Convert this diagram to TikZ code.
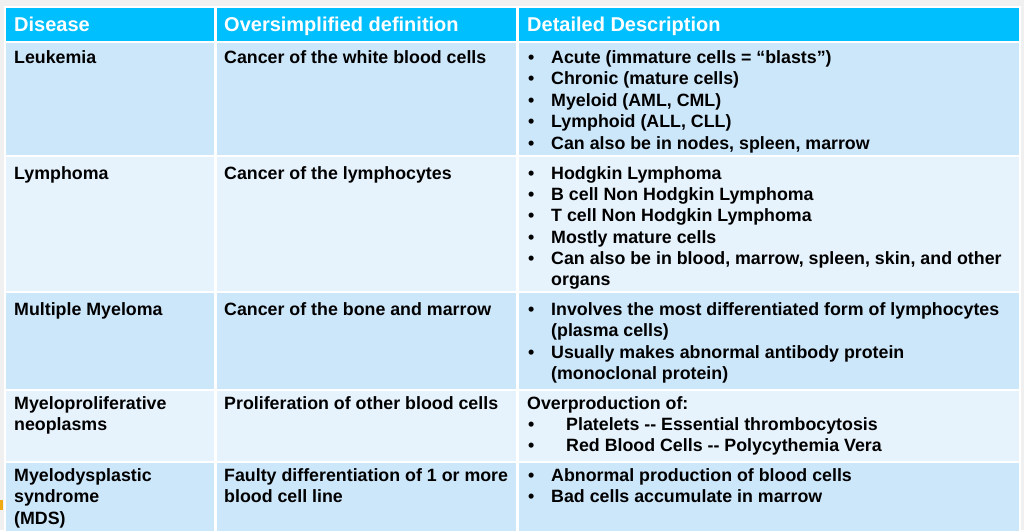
\documentclass[tikz,border=0pt]{standalone}
\usepackage{fontspec}
\setmainfont{Liberation Sans}
\definecolor{hdr}{RGB}{0,191,255}
\definecolor{rowa}{RGB}{204,230,250}
\definecolor{rowb}{RGB}{230,242,252}
\definecolor{bgc}{RGB}{240,240,240}
\definecolor{orng}{RGB}{240,170,20}
\begin{document}
\begin{tikzpicture}[x=1pt,y=-1pt,
  txt/.style={anchor=base west,inner sep=0pt,font=\fontsize{17.8}{20}\selectfont\bfseries},
  htxt/.style={txt,text=white,font=\fontsize{20}{22}\selectfont\bfseries}]
\useasboundingbox (0,0) rectangle (1024,530);
\fill[bgc] (0,0) rectangle (1024,530);
\fill[white] (4,6) rectangle (1021,530);
\fill[hdr] (6,8) rectangle (214,41);
\fill[hdr] (217,8) rectangle (516,41);
\fill[hdr] (519,8) rectangle (1019,41);
\foreach \ya/\yb/\c in {43/155/rowa,157/291/rowb,293/389/rowa,391/461/rowb,463/531/rowa}{
  \fill[\c] (6,\ya) rectangle (214,\yb);
  \fill[\c] (217,\ya) rectangle (516,\yb);
  \fill[\c] (519,\ya) rectangle (1019,\yb);}
\fill[orng] (0,500) rectangle (3,510);
\node[htxt] (h1) at (14,31) {Disease};
\node[htxt] (h2) at (224,31) {Oversimplified definition};
\node[htxt] (h3) at (527,31) {Detailed Description};
% left columns
\node[txt] (d1) at (14,63) {Leukemia};
\node[txt] (o1) at (224,63) {Cancer of the white blood cells};
\node[txt] (d2) at (14,179) {Lymphoma};
\node[txt] (o2) at (224,179) {Cancer of the lymphocytes};
\node[txt] (d3) at (14,315) {Multiple Myeloma};
\node[txt] (o3) at (224,315) {Cancer of the bone and marrow};
\node[txt] (d4a) at (14,409) {Myeloproliferative};
\node[txt] (d4b) at (14,430) {neoplasms};
\node[txt] (o4) at (224,409) {Proliferation of other blood cells};
\node[txt] (d5a) at (14,481) {Myelodysplastic};
\node[txt] (d5b) at (14,502) {syndrome};
\node[txt] (d5c) at (14,524) {(MDS)};
\node[txt] (o5a) at (224,481) {Faulty differentiation of 1 or more};
\node[txt] (o5b) at (224,502) {blood cell line};
% bullets
\foreach \y/\t/\b in {63/{Acute (immature cells = “blasts”)}/1,84/{Chronic (mature cells)}/1,106/{Myeloid (AML, CML)}/1,127/{Lymphoid (ALL, CLL)}/1,149/{Can also be in nodes, spleen, marrow}/1,
 179/{Hodgkin Lymphoma}/1,200/{B cell Non Hodgkin Lymphoma}/1,221/{T cell Non Hodgkin Lymphoma}/1,243/{Mostly mature cells}/1,264/{Can also be in blood, marrow, spleen, skin, and other}/1,285/{organs}/0,
 315/{Involves the most differentiated form of lymphocytes}/1,336/{(plasma cells)}/0,358/{Usually makes abnormal antibody protein}/1,379/{(monoclonal protein)}/0,
 481/{Abnormal production of blood cells}/1,502/{Bad cells accumulate in marrow}/1}{
  \node[txt] (t\y) at (551,\y) {\t};
  \ifnum\b=1 \node[txt] (b\y) at (528,\y) {•};\fi}
\node[txt] (ov) at (527,409) {Overproduction of:};
\node[txt] (bp) at (528,430) {•};
\node[txt] (tp) at (566,430) {Platelets {-}{-} Essential thrombocytosis};
\node[txt] (br) at (528,451) {•};
\node[txt] (tr) at (566,451) {Red Blood Cells {-}{-} Polycythemia Vera};
\end{tikzpicture}
\end{document}
